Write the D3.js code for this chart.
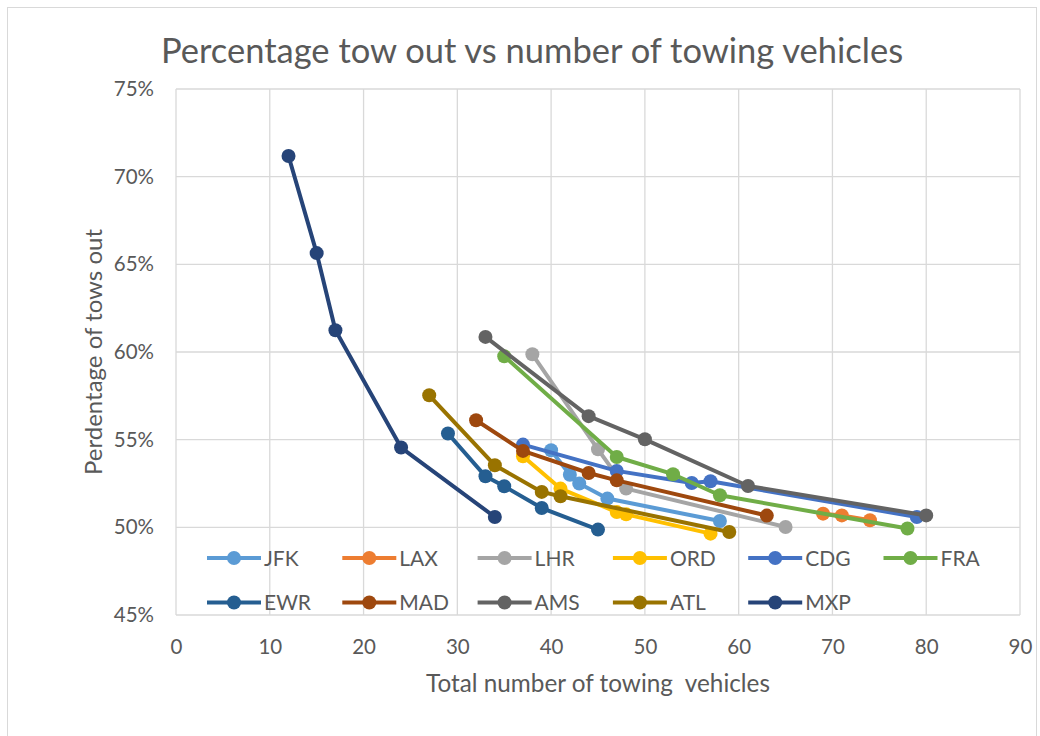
<!DOCTYPE html>
<html>
<head>
<meta charset="utf-8">
<script src="https://cdn.jsdelivr.net/npm/d3@7"></script>
<style>
  body { margin: 0; background: #fff; }
  text { font-family: Lato, "Liberation Sans", sans-serif; fill: #595959; }
</style>
</head>
<body>
<script>
// Airport names, in legend order
var airports = ["JFK", "LAX", "LHR", "ORD", "CDG", "FRA", "EWR", "MAD", "AMS", "ATL", "MXP"];

// number of towing vehicles per airport
var JFK_x = [40, 42, 43, 46, 58];
var LAX_x = [69, 71, 74];
var LHR_x = [38, 45, 48, 65];
var ORD_x = [37, 41, 47, 48, 57];
var CDG_x = [37, 47, 55, 57, 79];
var FRA_x = [35, 47, 53, 58, 78];
var EWR_x = [29, 33, 35, 39, 45];
var MAD_x = [32, 37, 44, 47, 63];
var AMS_x = [33, 44, 50, 61, 80];
var ATL_x = [27, 34, 39, 41, 59];
var MXP_x = [12, 15, 17, 24, 34];

// percentage of tows out
var JFK_y = [0.544, 0.530, 0.525, 0.5164, 0.5036];
var LAX_y = [0.5078, 0.5068, 0.5040];
var LHR_y = [0.5987, 0.5445, 0.5221, 0.5002];
var ORD_y = [0.5405, 0.5221, 0.5087, 0.5074, 0.4964];
var CDG_y = [0.5472, 0.5322, 0.5253, 0.5263, 0.5059];
var FRA_y = [0.5976, 0.5401, 0.5303, 0.5183, 0.4993];
var EWR_y = [0.5535, 0.5291, 0.5234, 0.5110, 0.4987];
var MAD_y = [0.5611, 0.5436, 0.5310, 0.5268, 0.5067];
var AMS_y = [0.6086, 0.5634, 0.5502, 0.5236, 0.5068];
var ATL_y = [0.5753, 0.5354, 0.5202, 0.5177, 0.4973];
var MXP_y = [0.7118, 0.6564, 0.6124, 0.5455, 0.5059];

var colors = ["#5B9BD5", "#ED7D31", "#A5A5A5", "#FFC000", "#4472C4", "#70AD47",
              "#255E91", "#9E480E", "#636363", "#997300", "#264478"];

var xTicks = [0, 10, 20, 30, 40, 50, 60, 70, 80, 90];
var yTicks = [0.45, 0.50, 0.55, 0.60, 0.65, 0.70, 0.75];

var xs = [JFK_x, LAX_x, LHR_x, ORD_x, CDG_x, FRA_x, EWR_x, MAD_x, AMS_x, ATL_x, MXP_x];
var ys = [JFK_y, LAX_y, LHR_y, ORD_y, CDG_y, FRA_y, EWR_y, MAD_y, AMS_y, ATL_y, MXP_y];

var series = airports.map(function(name, i) {
    return {
        name: name,
        color: colors[i],
        values: xs[i].map(function(v, j) { return {x: v, y: ys[i][j]}; })
    };
});

var W = 1040, H = 736;
var margin = {top: 89, right: 20, bottom: 121, left: 176};
var width = W - margin.left - margin.right;
var height = H - margin.top - margin.bottom;

var svg = d3.select("body").append("svg")
    .attr("width", W)
    .attr("height", H);

// chart border
svg.append("rect")
    .attr("x", 7.5).attr("y", 7.5)
    .attr("width", W - 11).attr("height", H - 4)
    .attr("fill", "#fff")
    .attr("stroke", "#d9d9d9")
    .attr("stroke-width", 1);

var g = svg.append("g")
    .attr("transform", "translate(" + margin.left + "," + margin.top + ")");

var x = d3.scaleLinear().domain([0, 90]).range([0, width]);
var y = d3.scaleLinear().domain([0.45, 0.75]).range([height, 0]);

// gridlines
g.selectAll(".vgrid").data(xTicks).enter().append("line")
    .attr("x1", function(d) { return x(d); })
    .attr("x2", function(d) { return x(d); })
    .attr("y1", 0).attr("y2", height)
    .attr("stroke", "#d9d9d9").attr("stroke-width", 1.3);

g.selectAll(".hgrid").data(yTicks).enter().append("line")
    .attr("x1", 0).attr("x2", width)
    .attr("y1", function(d) { return y(d); })
    .attr("y2", function(d) { return y(d); })
    .attr("stroke", "#d9d9d9").attr("stroke-width", 1.3);

// axes (labels only, lines come from grid)
var xAxis = g.append("g")
    .attr("transform", "translate(0," + height + ")")
    .call(d3.axisBottom(x).tickValues(xTicks).tickSize(0).tickPadding(24));
var yAxis = g.append("g")
    .call(d3.axisLeft(y).tickValues(yTicks).tickSize(0).tickPadding(22).tickFormat(d3.format(".0%")));

[xAxis, yAxis].forEach(function(a) {
    a.select(".domain").remove();
    a.selectAll("text")
        .style("font-family", "Lato, sans-serif")
        .style("font-size", "20.5px")
        .attr("fill", "#595959");
});

// lines + markers
var line = d3.line()
    .x(function(d) { return x(d.x); })
    .y(function(d) { return y(d.y); });

series.forEach(function(s) {
    var sg = g.append("g");
    sg.append("path")
        .attr("d", line(s.values))
        .attr("fill", "none")
        .attr("stroke", s.color)
        .attr("stroke-width", 4)
        .attr("stroke-linejoin", "round");
    sg.selectAll("circle").data(s.values).enter().append("circle")
        .attr("cx", function(d) { return x(d.x); })
        .attr("cy", function(d) { return y(d.y); })
        .attr("r", 7)
        .attr("fill", s.color);
});

// legend
var legend = svg.selectAll(".legend")
    .data(series)
    .enter().append("g")
    .attr("class", "legend")
    .attr("transform", function(d, i) {
        return "translate(" + (207 + (i % 6) * 135.3) + "," + (558 + Math.floor(i / 6) * 44.5) + ")";
    });

legend.append("line")
    .attr("x1", 0).attr("x2", 54)
    .attr("stroke", function(d) { return d.color; })
    .attr("stroke-width", 4);

legend.append("circle")
    .attr("cx", 27).attr("r", 7)
    .attr("fill", function(d) { return d.color; });

legend.append("text")
    .attr("x", 57)
    .attr("dy", "0.36em")
    .style("font-size", "21px")
    .text(function(d) { return d.name; });

// title
svg.append("text")
    .attr("x", 532)
    .attr("y", 63)
    .attr("text-anchor", "middle")
    .style("font-size", "34.5px")
    .text("Percentage tow out vs number of towing vehicles");

// axis titles
svg.append("text")
    .attr("x", 598)
    .attr("y", 692)
    .attr("text-anchor", "middle")
    .style("font-size", "24.3px")
    .style("white-space", "pre")
    .text("Total number of towing  vehicles");

svg.append("text")
    .attr("transform", "translate(102,352) rotate(-90)")
    .attr("text-anchor", "middle")
    .style("font-size", "24px")
    .text("Perdentage of tows out");
</script>
</body>
</html>
